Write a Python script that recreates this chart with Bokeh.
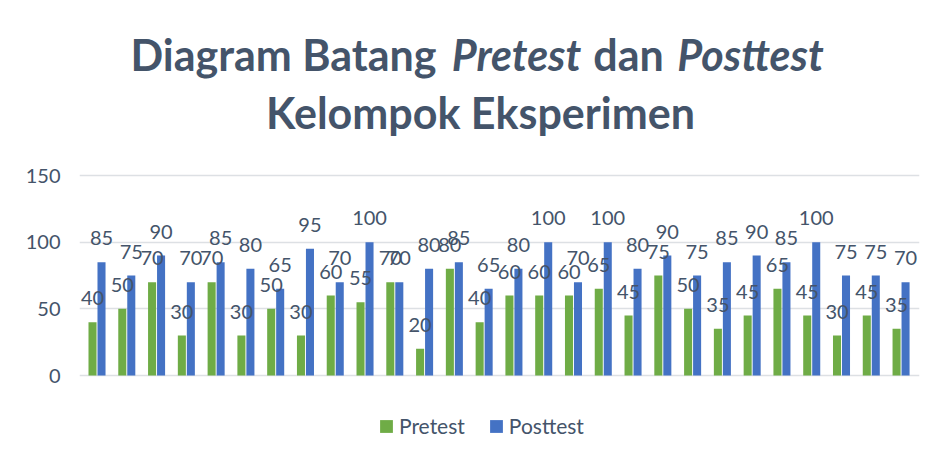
from bokeh.plotting import figure
from bokeh.models import Range1d, FixedTicker, Label, Legend, LegendItem, ColumnDataSource
from bokeh.core.properties import value
from bokeh.embed import file_html
from bokeh.resources import INLINE

pretest = [40, 50, 70, 30, 70, 30, 50, 30, 60, 55, 70, 20, 80, 40, 60, 60, 60, 65, 45, 75, 50, 35, 45, 65, 45, 30, 45, 35]
posttest = [85, 75, 90, 70, 85, 80, 65, 95, 70, 100, 70, 80, 85, 65, 80, 100, 70, 100, 80, 90, 75, 85, 90, 85, 100, 75, 75, 70]
y_ticks = [0, 50, 100, 150]
series_names = ["Pretest", "Posttest"]

TXT = "#44546A"
FONT = "Lato"
n = len(pretest)
idx = list(range(n))
off = 0.151
bw = 0.27

src_pre = ColumnDataSource(dict(x=[i - off for i in idx], top=pretest, lab=[str(v) for v in pretest]))
src_post = ColumnDataSource(dict(x=[i + off for i in idx], top=posttest, lab=[str(v) for v in posttest]))

# frame spans page x 79..919, y 20..450 ; value 0 at y=375, 150 at y=175
p = figure(width=938, height=458, output_backend="svg", toolbar_location=None,
           x_range=Range1d(-0.588, 27.619), y_range=Range1d(-56.25, 266.25),
           min_border_left=79, min_border_right=19, min_border_top=20, min_border_bottom=8)
p.outline_line_color = None
p.background_fill_color = "white"
p.border_fill_color = "white"
p.xaxis.visible = False
p.xgrid.visible = False
p.ygrid.grid_line_color = "#DDE0E4"
p.ygrid.grid_line_width = 1.6
p.yaxis.ticker = FixedTicker(ticks=y_ticks)
p.yaxis.axis_line_color = None
p.yaxis.major_tick_line_color = None
p.yaxis.minor_tick_line_color = None
p.yaxis.major_label_standoff = 13
p.yaxis.major_label_text_font = FONT
p.yaxis.major_label_text_font_size = "20px"
p.yaxis.major_label_text_color = TXT

r1 = p.vbar(x="x", top="top", width=bw, source=src_pre, fill_color="#6FAC46", line_color=None)
r2 = p.vbar(x="x", top="top", width=bw, source=src_post, fill_color="#4472C4", line_color=None)

for s in (src_pre, src_post):
    p.text(x="x", y="top", text="lab", source=s, text_align="center", text_baseline="alphabetic",
           y_offset=-24, text_font=value(FONT), text_font_size="20px", text_color=TXT)

legend = Legend(items=[LegendItem(label=series_names[0], renderers=[r1]),
                       LegendItem(label=series_names[1], renderers=[r2])],
                orientation="horizontal", location=(299, 12))
legend.border_line_color = None
legend.background_fill_alpha = 0
legend.padding = 0
legend.margin = 0
legend.spacing = 23
legend.label_standoff = 5
legend.glyph_width = 16
legend.glyph_height = 16
legend.label_text_font = FONT
legend.label_text_font_size = "21px"
legend.label_text_color = TXT
p.add_layout(legend, "center")

# title (screen units relative to frame: left = page 79, bottom = page 450)
def tlabel(txt, x, y, style="bold"):
    p.add_layout(Label(x=x, y=y, x_units="screen", y_units="screen", text=txt,
                       text_font=FONT, text_font_size="43px", text_font_style=style,
                       text_color=TXT, text_align="center", text_baseline="alphabetic"))

tlabel("Diagram Batang", 204, 396)
tlabel("Pretest", 437, 396, "bold italic")
tlabel("dan", 549, 396)
tlabel("Posttest", 671, 396, "bold italic")
tlabel("Kelompok Eksperimen", 401, 338)

open("out.html", "w").write(file_html(p, INLINE))
